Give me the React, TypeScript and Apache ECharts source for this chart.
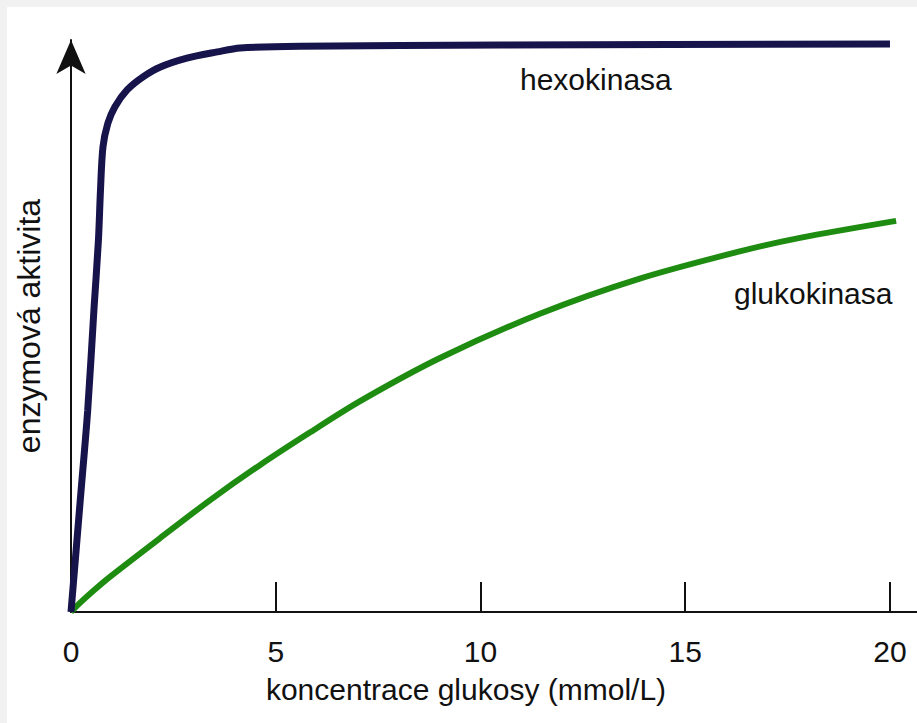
import React, { useEffect, useRef } from "react";
import * as echarts from "echarts";

// glucose concentration (mmol/L) and relative enzyme activity
const hexoX = [0, 0.227, 0.408, 0.56, 0.67, 0.72, 0.78, 0.9, 1.07, 1.37, 1.76, 2.17, 2.83, 3.57, 4.13, 5.59, 10.5, 20];
const hexoY = [0, 0.198, 0.356, 0.533, 0.656, 0.744, 0.82, 0.862, 0.891, 0.921, 0.944, 0.961, 0.977, 0.988, 0.995, 0.998, 1.0, 1.002];

const glukoX = [0, 0.22, 0.54, 0.95, 2.17, 3.39, 4.61, 5.84, 7.06, 9.01, 11.45, 13.89, 16.33, 17.8, 20.15];
const glukoY = [0, 0.016, 0.037, 0.062, 0.13, 0.197, 0.259, 0.317, 0.372, 0.448, 0.526, 0.588, 0.636, 0.66, 0.69];

const xTickValues = [5, 10, 15, 20];
const xLabelValues = [0, 5, 10, 15, 20];

const xAxisTitle = "koncentrace glukosy (mmol/L)";
const yAxisTitle = "enzymová aktivita";
const hexoName = "hexokinasa";
const glukoName = "glukokinasa";

const FONT = "'Liberation Sans', Arial, sans-serif";

export default function App() {
  const ref = useRef<HTMLDivElement>(null);
  useEffect(() => {
    if (!ref.current) return;
    const chart = echarts.init(ref.current, null, { renderer: "svg" });
    chart.setOption({
      animation: false,
      backgroundColor: "#ffffff",
      grid: { left: 71, right: 0, top: 40, bottom: 111 },
      xAxis: {
        type: "value",
        min: 0,
        max: 20.66,
        interval: 5,
        name: xAxisTitle,
        nameLocation: "middle",
        nameGap: 62,
        nameTextStyle: { fontFamily: FONT, fontSize: 30, color: "#111", padding: [0, 56, 0, 0] },
        axisLine: { show: true, onZero: false, lineStyle: { color: "#111", width: 2 } },
        axisTick: { show: true, inside: true, length: 30, customValues: xTickValues, lineStyle: { color: "#111", width: 2 } },
        axisLabel: { show: true, customValues: xLabelValues, margin: 24, fontFamily: FONT, fontSize: 30, color: "#111" },
        splitLine: { show: false },
      },
      yAxis: {
        type: "value",
        min: 0,
        max: 1.009,
        name: yAxisTitle,
        nameLocation: "middle",
        nameRotate: 90,
        nameGap: 26,
        nameTextStyle: { fontFamily: FONT, fontSize: 32, color: "#111" },
        axisLine: {
          show: true,
          onZero: false,
          symbol: ["none", "arrow"],
          symbolSize: [22, 34],
          lineStyle: { color: "#111", width: 2 },
        },
        axisTick: { show: false },
        axisLabel: { show: false },
        splitLine: { show: false },
      },
      graphic: [
        { type: "rect", shape: { x: 0, y: 0, width: 7, height: 723 }, style: { fill: "#f1f1f1" }, z: -10 },
        { type: "rect", shape: { x: 0, y: 0, width: 917, height: 7 }, style: { fill: "#f1f1f1" }, z: -10 },
        {
          type: "text",
          left: 520,
          top: 64,
          style: { text: hexoName, font: `30px ${FONT}`, fill: "#111" },
        },
        {
          type: "text",
          left: 734,
          top: 278,
          style: { text: glukoName, font: `30px ${FONT}`, fill: "#111" },
        },
      ],
      series: [
        {
          name: glukoName,
          type: "line",
          data: glukoX.map((x, i) => [x, glukoY[i]]),
          smooth: 0.3,
          showSymbol: false,
          lineStyle: { color: "#1e8c10", width: 6 },
          z: 2,
        },
        {
          name: hexoName,
          type: "line",
          data: hexoX.map((x, i) => [x, hexoY[i]]),
          smooth: 0.3,
          showSymbol: false,
          lineStyle: { color: "#17144c", width: 7 },
          z: 3,
        },
      ],
    });
    return () => chart.dispose();
  }, []);
  return (
    <div
      ref={ref}
      style={{ position: "absolute", left: 0, top: 0, width: 917, height: 723 }}
    />
  );
}
